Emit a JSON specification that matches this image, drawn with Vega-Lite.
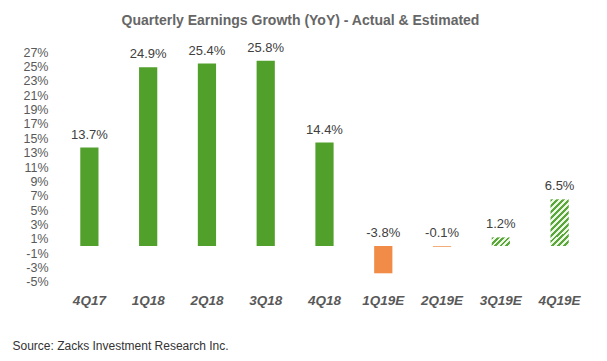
{
  "$schema": "https://vega.github.io/schema/vega-lite/v6.json",
  "autosize": "none",
  "width": 529,
  "height": 237,
  "padding": {"left": 60, "top": 48.5, "right": 18, "bottom": 75.5},
  "background": "white",
  "config": {
    "view": {"stroke": null},
    "font": "Liberation Sans",
    "axisY": {"labelOverlap": false}
  },
  "title": {
    "text": "Quarterly Earnings Growth (YoY) - Actual & Estimated",
    "font": "Liberation Sans",
    "fontSize": 14,
    "fontWeight": "bold",
    "color": "#666666",
    "anchor": "middle",
    "dx": -24,
    "offset": 14
  },
  "data": {
    "values": [
      {"quarter": "4Q17", "growth": 13.7},
      {"quarter": "1Q18", "growth": 24.9},
      {"quarter": "2Q18", "growth": 25.4},
      {"quarter": "3Q18", "growth": 25.8},
      {"quarter": "4Q18", "growth": 14.4},
      {"quarter": "1Q19E", "growth": -3.8},
      {"quarter": "2Q19E", "growth": -0.1},
      {"quarter": "3Q19E", "growth": 1.2},
      {"quarter": "4Q19E", "growth": 6.5}
    ]
  },
  "encoding": {
    "x": {
      "field": "quarter",
      "type": "nominal",
      "sort": null,
      "scale": {"paddingInner": 0.69, "paddingOuter": 0.345},
      "axis": {
        "title": "Source: Zacks Investment Research Inc.",
        "titleFont": "Liberation Sans",
        "titleFontSize": 12,
        "titleFontWeight": "normal",
        "titleColor": "#333333",
        "titleAnchor": "start",
        "titleAlign": "left",
        "titleBaseline": "middle",
        "titleX": -48,
        "titleY": 60,
        "domain": false,
        "ticks": false,
        "labelAngle": 0,
        "labelPadding": 8,
        "labelFont": "Liberation Sans",
        "labelFontSize": 13.5,
        "labelFontStyle": "italic",
        "labelFontWeight": "bold",
        "labelColor": "#595959"
      }
    }
  },
  "layer": [
    {
      "mark": {"type": "rule", "color": "#d9d9d9", "strokeWidth": 1},
      "encoding": {
        "y": {
          "datum": 0,
          "type": "quantitative",
          "scale": {"domain": [-5.5, 27.5], "nice": false, "zero": false},
          "axis": {
            "title": null,
            "domain": false,
            "ticks": false,
            "grid": false,
            "values": [-5, -3, -1, 1, 3, 5, 7, 9, 11, 13, 15, 17, 19, 21, 23, 25, 27],
            "tickCount": 40,
            "labelExpr": "datum.value + '%'",
            "labelOverlap": false,
            "labelPadding": 12,
            "labelFont": "Liberation Sans",
            "labelFontSize": 12.5,
            "labelColor": "#595959"
          }
        }
      }
    },
    {
      "mark": {"type": "bar"},
      "encoding": {
        "y": {
          "field": "growth",
          "type": "quantitative"
        },
        "y2": {"datum": 0},
        "fill": {
          "condition": [
            {"test": "datum.growth < 0", "value": "#f08c48"},
            {"test": "datum.quarter === '3Q19E'", "value": {
              "gradient": "linear", "x1": 0, "y1": 0, "x2": 1.2, "y2": 0.575,
              "stops": [
                {"offset": 0, "color": "#5aa83a"}, {"offset": 0.1, "color": "#5aa83a"}, {"offset": 0.1, "color": "#eef6e8"}, {"offset": 0.2, "color": "#eef6e8"},
                {"offset": 0.2, "color": "#5aa83a"}, {"offset": 0.3, "color": "#5aa83a"}, {"offset": 0.3, "color": "#eef6e8"}, {"offset": 0.4, "color": "#eef6e8"},
                {"offset": 0.4, "color": "#5aa83a"}, {"offset": 0.5, "color": "#5aa83a"}, {"offset": 0.5, "color": "#eef6e8"}, {"offset": 0.6, "color": "#eef6e8"},
                {"offset": 0.6, "color": "#5aa83a"}, {"offset": 0.7, "color": "#5aa83a"}, {"offset": 0.7, "color": "#eef6e8"}, {"offset": 0.8, "color": "#eef6e8"},
                {"offset": 0.8, "color": "#5aa83a"}, {"offset": 0.9, "color": "#5aa83a"}, {"offset": 0.9, "color": "#eef6e8"}, {"offset": 1, "color": "#eef6e8"}
              ]
            }},
            {"test": "datum.quarter === '4Q19E'", "value": {
              "gradient": "linear", "x1": 0, "y1": 0, "x2": 0.466, "y2": 1.206,
              "stops": [
                {"offset": 0, "color": "#5aa83a"}, {"offset": 0.0455, "color": "#5aa83a"}, {"offset": 0.0455, "color": "#eef6e8"}, {"offset": 0.0909, "color": "#eef6e8"},
                {"offset": 0.0909, "color": "#5aa83a"}, {"offset": 0.1364, "color": "#5aa83a"}, {"offset": 0.1364, "color": "#eef6e8"}, {"offset": 0.1818, "color": "#eef6e8"},
                {"offset": 0.1818, "color": "#5aa83a"}, {"offset": 0.2273, "color": "#5aa83a"}, {"offset": 0.2273, "color": "#eef6e8"}, {"offset": 0.2727, "color": "#eef6e8"},
                {"offset": 0.2727, "color": "#5aa83a"}, {"offset": 0.3182, "color": "#5aa83a"}, {"offset": 0.3182, "color": "#eef6e8"}, {"offset": 0.3636, "color": "#eef6e8"},
                {"offset": 0.3636, "color": "#5aa83a"}, {"offset": 0.4091, "color": "#5aa83a"}, {"offset": 0.4091, "color": "#eef6e8"}, {"offset": 0.4545, "color": "#eef6e8"},
                {"offset": 0.4545, "color": "#5aa83a"}, {"offset": 0.5, "color": "#5aa83a"}, {"offset": 0.5, "color": "#eef6e8"}, {"offset": 0.5455, "color": "#eef6e8"},
                {"offset": 0.5455, "color": "#5aa83a"}, {"offset": 0.5909, "color": "#5aa83a"}, {"offset": 0.5909, "color": "#eef6e8"}, {"offset": 0.6364, "color": "#eef6e8"},
                {"offset": 0.6364, "color": "#5aa83a"}, {"offset": 0.6818, "color": "#5aa83a"}, {"offset": 0.6818, "color": "#eef6e8"}, {"offset": 0.7273, "color": "#eef6e8"},
                {"offset": 0.7273, "color": "#5aa83a"}, {"offset": 0.7727, "color": "#5aa83a"}, {"offset": 0.7727, "color": "#eef6e8"}, {"offset": 0.8182, "color": "#eef6e8"},
                {"offset": 0.8182, "color": "#5aa83a"}, {"offset": 0.8636, "color": "#5aa83a"}, {"offset": 0.8636, "color": "#eef6e8"}, {"offset": 0.9091, "color": "#eef6e8"},
                {"offset": 0.9091, "color": "#5aa83a"}, {"offset": 0.9545, "color": "#5aa83a"}, {"offset": 0.9545, "color": "#eef6e8"}, {"offset": 1, "color": "#eef6e8"}
              ]
            }}
          ],
          "value": "#52a02c"
        }
      }
    },
    {
      "transform": [{"filter": "datum.growth >= 0"}],
      "mark": {"type": "text", "baseline": "alphabetic", "dy": -9, "font": "Liberation Sans", "fontSize": 13, "color": "#404040",
        "text": {"expr": "format(datum.growth, '.1f') + '%'"}},
      "encoding": {
        "y": {"field": "growth", "type": "quantitative"}
      }
    },
    {
      "transform": [{"filter": "datum.growth < 0"}],
      "mark": {"type": "text", "baseline": "alphabetic", "dy": -9, "font": "Liberation Sans", "fontSize": 13, "color": "#404040",
        "text": {"expr": "replace(format(datum.growth, '.1f'), '\u2212', '-') + '%'"}},
      "encoding": {
        "y": {"datum": 0, "type": "quantitative"},
        "fontWeight": {"condition": {"test": "datum.growth < -1", "value": "bold"}, "value": "normal"}
      }
    }
  ]
}
